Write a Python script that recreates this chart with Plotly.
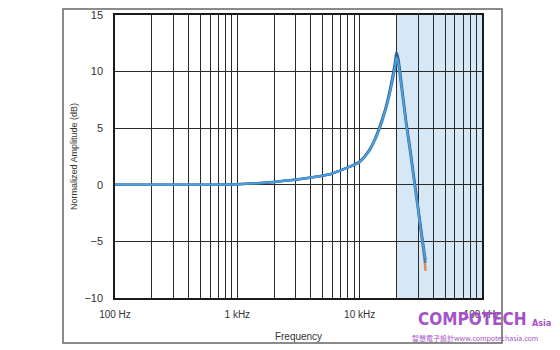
import plotly.graph_objects as go

freq = [100, 200, 500, 1000, 2000, 2700, 3500, 4700, 6000, 6900, 8300, 10000, 12000,
        13000, 14500, 16000, 17500, 18500, 19500, 20000, 20800, 22000, 24000, 26000,
        28000, 30000, 32000, 34500]
amp_dark = [0, 0, 0, 0.05, 0.25, 0.4, 0.55, 0.75, 1.0, 1.25, 1.6, 2.05, 3.1,
            3.8, 5.1, 6.5, 8.2, 9.5, 10.9, 11.7, 11.0, 8.9, 5.6, 3.0,
            0.4, -1.9, -4.2, -6.6]
amp_mid = [0, 0, 0, 0.05, 0.25, 0.4, 0.55, 0.75, 1.0, 1.25, 1.6, 2.0, 3.0,
           3.7, 4.9, 6.3, 7.9, 9.1, 10.4, 11.1, 10.5, 8.5, 5.3, 2.7,
           0.1, -2.2, -4.5, -6.9]
amp_light = [0, 0, 0, 0.05, 0.25, 0.4, 0.55, 0.75, 1.0, 1.25, 1.6, 2.0, 3.05,
             3.75, 5.0, 6.4, 8.0, 9.3, 10.6, 11.3, 10.7, 8.7, 5.4, 2.8,
             0.2, -2.1, -4.4, -6.5]
freq_tail = [30000, 32000, 34000, 34600]
amp_orange = [-2.1, -4.4, -6.8, -7.6]

major_ticks = [100, 1000, 10000, 100000]
major_labels = ["100 Hz", "1 kHz", "10 kHz", "100 kHz"]
y_ticks = [-10, -5, 0, 5, 10, 15]
shade_range = [20000, 100000]

tickvals, ticktext = [], []
for d in [100, 1000, 10000]:
    for m in range(1, 10):
        tickvals.append(d * m)
        ticktext.append(major_labels[major_ticks.index(d)] if m == 1 else "")
tickvals.append(100000)
ticktext.append("100 kHz")

fig = go.Figure()
fig.add_trace(go.Scatter(x=freq_tail, y=amp_orange, mode="lines",
                         line=dict(color="#e8894a", width=2.5, shape="spline")))
fig.add_trace(go.Scatter(x=freq, y=amp_dark, mode="lines",
                         line=dict(color="#2f5c9c", width=2.5, shape="spline", smoothing=0.6)))
fig.add_trace(go.Scatter(x=freq, y=amp_mid, mode="lines",
                         line=dict(color="#3d7fc0", width=2.5, shape="spline", smoothing=0.6)))
fig.add_trace(go.Scatter(x=freq, y=amp_light, mode="lines",
                         line=dict(color="#4fa3d8", width=1.5, shape="spline", smoothing=0.6)))

fig.add_shape(type="rect", xref="x", yref="y", x0=shade_range[0], x1=shade_range[1],
              y0=-10, y1=15, fillcolor="#d6e8f5", line_width=0, layer="below")
# outer frame
fig.add_shape(type="rect", xref="paper", yref="paper", x0=-0.1417, x1=1.0545,
              y0=-0.159, y1=1.0208, line=dict(color="#666666", width=1.5))

font = "Liberation Sans, Arial, sans-serif"
fig.update_layout(
    width=560, height=350,
    margin=dict(l=115, r=78, t=9, b=52),
    paper_bgcolor="white", plot_bgcolor="white",
    showlegend=False,
    font=dict(family=font, size=10, color="#333333"),
    xaxis=dict(type="log", range=[2, 5], tickvals=tickvals, ticktext=ticktext,
               showgrid=True, gridcolor="#2a2a2a", gridwidth=1.3,
               showline=True, linecolor="#1a1a1a", linewidth=1.5, mirror=True,
               ticks="", ticklen=0, tickfont=dict(size=10), ticklabelstandoff=6,
               title=dict(text="Frequency", font=dict(size=10), standoff=14),
               zeroline=False),
    yaxis=dict(range=[-10, 15], tickvals=y_ticks, showgrid=True,
               gridcolor="#2a2a2a", gridwidth=1.3,
               showline=True, linecolor="#1a1a1a", linewidth=1.5, mirror=True,
               ticks="", tickfont=dict(size=11), ticklabelstandoff=8,
               title=dict(text="Normalized Amplitude (dB)", font=dict(size=9), standoff=5),
               zeroline=False),
)

wm = "#a552c8"
fig.add_annotation(xref="paper", yref="paper", x=0.975, y=-0.074, xanchor="center", yanchor="middle",
                   text="<b>COMPOTECH</b>", showarrow=False,
                   font=dict(family="DejaVu Sans Condensed, DejaVu Sans, sans-serif", size=17, color=wm))
fig.add_annotation(xref="paper", yref="paper", x=1.162, y=-0.088, xanchor="center", yanchor="middle",
                   text="<b>Asia</b>", showarrow=False,
                   font=dict(family="DejaVu Sans Condensed, DejaVu Sans, sans-serif", size=9, color=wm))
fig.add_annotation(xref="paper", yref="paper", x=0.981, y=-0.142, xanchor="center", yanchor="middle",
                   text="智慧電子設計www.compotechasia.com", showarrow=False,
                   font=dict(family="Noto Sans CJK TC, sans-serif", size=7, color=wm))

fig.write_html("out.html")
